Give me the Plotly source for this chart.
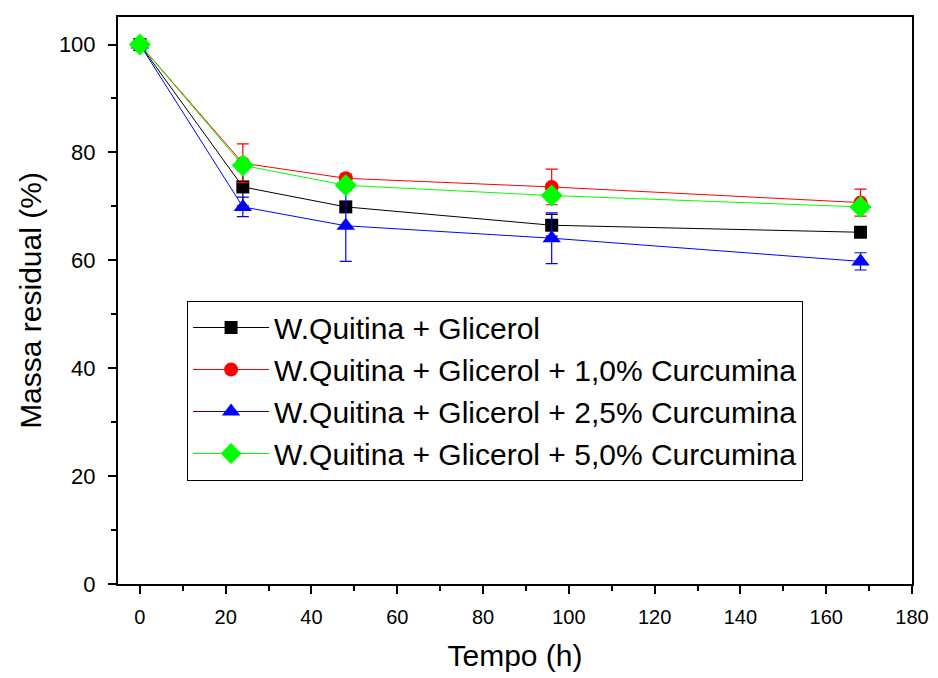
import plotly.graph_objects as go

tempo = [0, 24, 48, 96, 168]

nomes = [
    "W.Quitina + Glicerol",
    "W.Quitina + Glicerol + 1,0% Curcumina",
    "W.Quitina + Glicerol + 2,5% Curcumina",
    "W.Quitina + Glicerol + 5,0% Curcumina",
]

massa_base = [100, 73.6, 69.9, 66.5, 65.2]
erro_base = [0.3, 3.5, 1.0, 2.0, 0.5]

massa_1_0 = [100, 78.0, 75.2, 73.6, 70.7]
erro_1_0 = [0.3, 3.6, 0.8, 3.3, 2.5]

massa_2_5 = [100, 69.9, 66.4, 64.1, 59.8]
erro_2_5 = [0.3, 1.8, 6.6, 4.7, 1.6]

massa_5_0 = [100, 77.6, 73.9, 72.0, 69.9]
erro_5_0 = [0.3, 1.0, 0.8, 1.0, 0.5]

cores = ["#000000", "#ff0000", "#0000ff", "#00ff00"]
simbolos = ["square", "circle", "triangle-up", "diamond"]
tamanhos = [13, 14, 16, 17]

series = [
    (massa_base, erro_base),
    (massa_1_0, erro_1_0),
    (massa_2_5, erro_2_5),
    (massa_5_0, erro_5_0),
]

fig = go.Figure()
for (vals, errs), nome, cor, sim, tam in zip(series, nomes, cores, simbolos, tamanhos):
    fig.add_trace(go.Scatter(
        x=tempo, y=vals, name=nome, mode="lines+markers",
        line=dict(color=cor, width=1),
        marker=dict(symbol=sim, size=tam, color=cor, line=dict(width=0)),
        error_y=dict(type="data", array=errs, visible=True, color=cor,
                     thickness=1.2, width=6),
    ))

fonte = "Arial, Liberation Sans, sans-serif"

fig.update_layout(
    width=930, height=670,
    margin=dict(l=110, r=26, t=7, b=94),
    paper_bgcolor="white", plot_bgcolor="white",
    font=dict(family=fonte, color="black"),
    showlegend=True,
    legend=dict(
        x=0.087, y=0.5, xanchor="left", yanchor="top",
        bgcolor="white", bordercolor="black", borderwidth=1,
        font=dict(size=30, family=fonte, color="black"),
        itemwidth=76, tracegroupgap=0,
    ),
    xaxis=dict(
        range=[-5.1, 180], tickmode="array",
        tickvals=[0, 20, 40, 60, 80, 100, 120, 140, 160, 180],
        showgrid=False, zeroline=False,
        showline=True, linecolor="black", linewidth=2, mirror=True,
        ticks="outside", ticklen=8, tickwidth=2, tickcolor="black",
        minor=dict(ticks="outside", ticklen=5, tickwidth=2, tickcolor="black", dtick=10, tick0=0),
        tickfont=dict(size=20, family=fonte),
        ticklabelstandoff=6,
        title=dict(text="Tempo (h)", font=dict(size=30, family=fonte), standoff=18),
    ),
    yaxis=dict(
        range=[0, 105.1], tickmode="array",
        tickvals=[0, 20, 40, 60, 80, 100],
        showgrid=False, zeroline=False,
        showline=True, linecolor="black", linewidth=2, mirror=True,
        ticks="outside", ticklen=8, tickwidth=2, tickcolor="black",
        minor=dict(ticks="outside", ticklen=5, tickwidth=2, tickcolor="black", dtick=10, tick0=0),
        tickfont=dict(size=22, family=fonte),
        ticklabelstandoff=8,
        title=dict(text="Massa residual (%)", font=dict(size=30, family=fonte), standoff=8),
    ),
)

fig.write_html("out.html")
